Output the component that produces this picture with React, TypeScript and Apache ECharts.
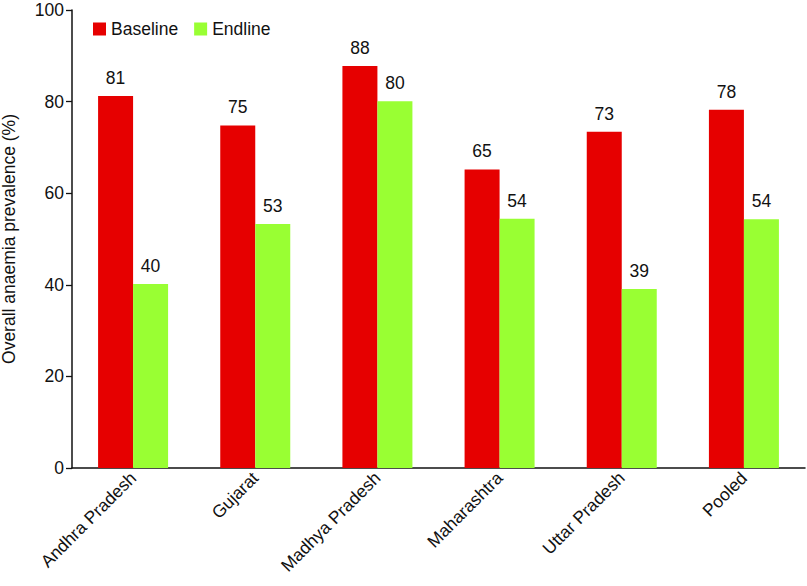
import React, { useEffect, useRef } from "react";
import * as echarts from "echarts";

const categories = ["Andhra Pradesh", "Gujarat", "Madhya Pradesh", "Maharashtra", "Uttar Pradesh", "Pooled"];
const baseline = [81.2, 74.8, 87.8, 65.2, 73.4, 78.2];
const endline = [40.2, 53.3, 80.1, 54.4, 39.1, 54.3];
const yTicks = { min: 0, max: 100, interval: 20 };

const FONT = "'Liberation Sans', Arial, sans-serif";
const FS = 17.5;

export default function App() {
  const ref = useRef<HTMLDivElement>(null);
  useEffect(() => {
    if (!ref.current) return;
    const chart = echarts.init(ref.current, null, { renderer: "svg" });
    const labelCfg = {
      show: true,
      position: "top" as const,
      distance: 9,
      color: "#111",
      fontSize: FS,
      fontFamily: FONT,
      formatter: (p: any) => String(Math.round(p.value)),
    };
    chart.setOption({
      animation: false,
      textStyle: { fontFamily: FONT },
      grid: { left: 72, right: 2, top: 10, bottom: 118, containLabel: false, outerBoundsMode: "none" },
      legend: {
        left: 88,
        top: 15,
        itemWidth: 13,
        itemHeight: 13,
        itemGap: 16,
        icon: "rect",
        textStyle: { fontSize: FS, color: "#111", fontFamily: FONT },
        data: ["Baseline", "Endline"],
      },
      xAxis: {
        type: "category",
        data: categories,
        axisLine: { lineStyle: { color: "#111", width: 1.5 } },
        axisTick: { inside: true, length: 6, lineStyle: { color: "#111", width: 1.3 } },
        axisLabel: { rotate: 45, fontSize: FS, color: "#111", fontFamily: FONT, margin: 7, interval: 0 },
      },
      yAxis: {
        type: "value",
        min: yTicks.min,
        max: yTicks.max,
        interval: yTicks.interval,
        name: "Overall anaemia prevalence (%)",
        nameLocation: "middle",
        nameGap: 54,
        nameTextStyle: { fontSize: FS, color: "#111", fontFamily: FONT },
        splitLine: { show: false },
        axisLine: { show: true, lineStyle: { color: "#111", width: 1.5 } },
        axisTick: { show: true, length: 6, lineStyle: { color: "#111", width: 1.3 } },
        axisLabel: { fontSize: FS, color: "#111", fontFamily: FONT, margin: 8 },
      },
      series: [
        {
          name: "Baseline",
          type: "bar",
          data: baseline,
          barWidth: 35,
          barGap: "0%",
          itemStyle: { color: "#E60000" },
          label: labelCfg,
        },
        {
          name: "Endline",
          type: "bar",
          data: endline,
          barWidth: 35,
          barGap: "0%",
          itemStyle: { color: "#99FF33" },
          label: labelCfg,
        },
      ],
    });
    return () => chart.dispose();
  }, []);
  return <div ref={ref} style={{ width: 807, height: 586, position: "absolute", left: 0, top: 0 }} />;
}
